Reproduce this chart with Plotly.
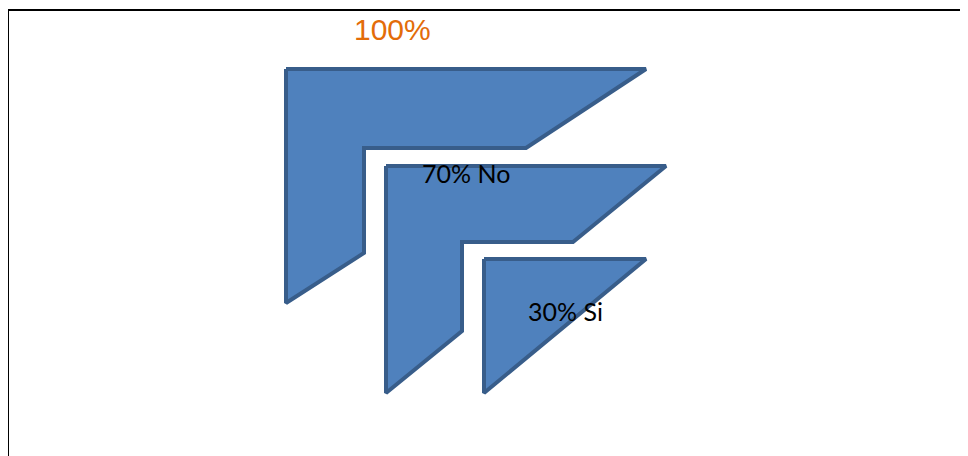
import plotly.graph_objects as go

# Data
percent_values = [100, 70, 30]
category_names = ["", "No", "Si"]

# Polygon outlines of the three shapes (diagram units = pixels of the canvas)
shape_total_x = [286, 646, 526, 364, 364, 286, 286]
shape_total_y = [69, 69, 148, 148, 253, 303, 69]
shape_no_x = [386, 666, 573, 462, 462, 386, 386]
shape_no_y = [166, 166, 242, 242, 331, 393, 166]
shape_si_x = [484, 646, 484, 484]
shape_si_y = [259, 259, 393, 259]

FILL = "#4F81BD"
EDGE = "#385D8A"

fig = go.Figure()
for xs, ys in [(shape_total_x, shape_total_y), (shape_no_x, shape_no_y), (shape_si_x, shape_si_y)]:
    fig.add_trace(go.Scatter(
        x=xs, y=ys, mode="lines", fill="toself", fillcolor=FILL,
        line=dict(color=EDGE, width=4), hoverinfo="skip", showlegend=False,
    ))

labels = [f"{p}%" + (f" {n}" if n else "") for p, n in zip(percent_values, category_names)]
label_pos = [(392, 29), (466, 173), (565, 311)]
label_styles = [
    dict(family="Liberation Sans", size=30, color="#E36C09"),
    dict(family="Lato", size=25, color="#000000"),
    dict(family="Lato", size=25, color="#000000"),
]
for text, (x, y), font in zip(labels, label_pos, label_styles):
    fig.add_annotation(x=x, y=y, text=text, showarrow=False, font=font,
                       xanchor="center", yanchor="middle")

# frame lines (top and left)
fig.add_shape(type="line", x0=8, x1=968, y0=10, y1=10, line=dict(color="black", width=2))
fig.add_shape(type="line", x0=8, x1=8, y0=10, y1=456, line=dict(color="black", width=2))

# page body has an 8px margin, so the figure is offset by 8px; compensate via axis ranges
fig.update_layout(
    width=960, height=448,
    margin=dict(l=0, r=0, t=0, b=0),
    paper_bgcolor="white", plot_bgcolor="white",
    xaxis=dict(range=[8, 968], visible=False, fixedrange=True),
    yaxis=dict(range=[456, 8], visible=False, fixedrange=True),
    showlegend=False,
)

fig.write_html("out.html")
